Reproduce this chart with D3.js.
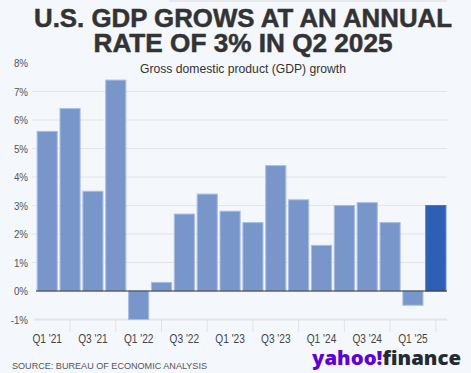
<!DOCTYPE html>
<html>
<head>
<meta charset="utf-8">
<script src="https://cdn.jsdelivr.net/npm/d3@7"></script>
<style>
  html, body { margin: 0; padding: 0; background: #f4f7fb; }
  svg { display: block; }
</style>
</head>
<body>
<div id="chart"></div>
<script>
// quarters and GDP growth (annualized %)
const quarters = ["Q1 '21", "Q2 '21", "Q3 '21", "Q4 '21", "Q1 '22", "Q2 '22", "Q3 '22", "Q4 '22",
  "Q1 '23", "Q2 '23", "Q3 '23", "Q4 '23", "Q1 '24", "Q2 '24", "Q3 '24", "Q4 '24", "Q1 '25", "Q2 '25"];
const growth = [5.6, 6.4, 3.5, 7.4, -1.0, 0.3, 2.7, 3.4, 2.8, 2.4, 4.4, 3.2, 1.6, 3.0, 3.1, 2.4, -0.5, 3.0];
const yTicks = [-1, 0, 1, 2, 3, 4, 5, 6, 7, 8];
const xLabels = ["Q1 '21", "Q3 '21", "Q1 '22", "Q3 '22", "Q1 '23", "Q3 '23", "Q1 '24", "Q3 '24", "Q1 '25"];

const width = 471;
const height = 373;
const sans = "'Liberation Sans', Arial, sans-serif";

const svg = d3.select("#chart").append("svg")
  .attr("width", width)
  .attr("height", height);

svg.append("rect").attr("width", width).attr("height", height).attr("fill", "#f4f7fb");

// faint strip at the very top
svg.append("rect").attr("x", 169).attr("y", 0).attr("width", 278).attr("height", 2).attr("fill", "#e6e8ec");

// title
const titleLines = ["U.S. GDP GROWS AT AN ANNUAL", "RATE OF 3% IN Q2 2025"];
const titleWidths = [418, 299];
svg.selectAll("text.title")
  .data(titleLines)
  .join("text")
  .attr("class", "title")
  .attr("x", 243)
  .attr("y", (d, i) => 27 + i * 25)
  .attr("text-anchor", "middle")
  .attr("textLength", (d, i) => titleWidths[i])
  .attr("lengthAdjust", "spacingAndGlyphs")
  .style("font-family", sans)
  .style("font-weight", "bold")
  .style("font-size", "26px")
  .style("fill", "#333")
  .style("stroke", "#333")
  .style("stroke-width", 0.5)
  .text(d => d);

svg.append("text")
  .attr("x", 243)
  .attr("y", 73)
  .attr("text-anchor", "middle")
  .attr("textLength", 206)
  .attr("lengthAdjust", "spacingAndGlyphs")
  .style("font-family", sans)
  .style("font-size", "12.3px")
  .style("fill", "#333")
  .text("Gross domestic product (GDP) growth");

// scales
const x = d3.scaleBand().domain(quarters).range([36, 447]).paddingInner(0.12).paddingOuter(0.05);
const y = d3.scaleLinear().domain([-1, 8]).range([319.5, 63]);

// gridlines
svg.append("g")
  .selectAll("line")
  .data(yTicks.filter(d => d > 0 && d < 8))
  .join("line")
  .attr("x1", 32).attr("x2", 447)
  .attr("y1", d => y(d)).attr("y2", d => y(d))
  .attr("stroke", "#e2e4e8")
  .attr("stroke-width", 1);

svg.append("line")
  .attr("x1", 34).attr("x2", 447)
  .attr("y1", y(-1)).attr("y2", y(-1))
  .attr("stroke", "#e2e4e8")
  .attr("stroke-width", 2);

// y labels, squeezed horizontally
svg.append("g")
  .selectAll("text")
  .data(yTicks)
  .join("text")
  .attr("transform", d => `translate(28,${y(d)}) scale(0.85,1)`)
  .attr("dy", "0.35em")
  .attr("text-anchor", "end")
  .style("font-family", sans)
  .style("font-size", "11.5px")
  .style("fill", "#555")
  .text(d => d + "%");

// bars
svg.append("g")
  .selectAll("rect")
  .data(quarters.map((q, i) => ({ q, v: growth[i], last: i === quarters.length - 1 })))
  .join("rect")
  .attr("x", d => x(d.q))
  .attr("width", x.bandwidth())
  .attr("y", d => y(Math.max(0, d.v)))
  .attr("height", d => Math.abs(y(d.v) - y(0)))
  .attr("fill", d => d.last ? "#2d5fb6" : "#7896ca")
  .attr("stroke", d => d.last ? "#4a76c2" : "#a9bde2")
  .attr("stroke-width", 1);

// zero line
svg.append("line")
  .attr("x1", 36).attr("x2", 447)
  .attr("y1", y(0)).attr("y2", y(0))
  .attr("stroke", "#333")
  .attr("stroke-width", 1.2);

// x tick marks at the in-between quarters
svg.append("g")
  .selectAll("line")
  .data(quarters.filter((q, i) => i % 2 === 1))
  .join("line")
  .attr("x1", d => x(d) + x.bandwidth() / 2)
  .attr("x2", d => x(d) + x.bandwidth() / 2)
  .attr("y1", 320)
  .attr("y2", 332)
  .attr("stroke", "#dfe2e6")
  .attr("stroke-width", 1);

// x labels, squeezed horizontally
svg.append("g")
  .selectAll("text")
  .data(xLabels)
  .join("text")
  .attr("transform", d => `translate(${x(d) + x.bandwidth() / 2},342.5) scale(0.78,1)`)
  .attr("text-anchor", "middle")
  .style("font-family", sans)
  .style("font-size", "13px")
  .style("fill", "#444")
  .text(d => d);

// source
svg.append("text")
  .attr("x", 12)
  .attr("y", 369)
  .attr("textLength", 195)
  .attr("lengthAdjust", "spacingAndGlyphs")
  .style("font-family", sans)
  .style("font-size", "9.5px")
  .style("fill", "#555")
  .text("SOURCE: BUREAU OF ECONOMIC ANALYSIS");

// yahoo finance logo
const logo = svg.append("text")
  .attr("x", 312)
  .attr("y", 364.5)
  .attr("textLength", 149)
  .attr("lengthAdjust", "spacingAndGlyphs")
  .style("font-family", "'Open Sans', 'DejaVu Sans', sans-serif")
  .style("font-weight", "800")
  .style("font-size", "20px");
logo.append("tspan").style("fill", "#6001d2").text("yahoo!");
logo.append("tspan").style("fill", "#232a31").text("finance");
</script>
</body>
</html>
